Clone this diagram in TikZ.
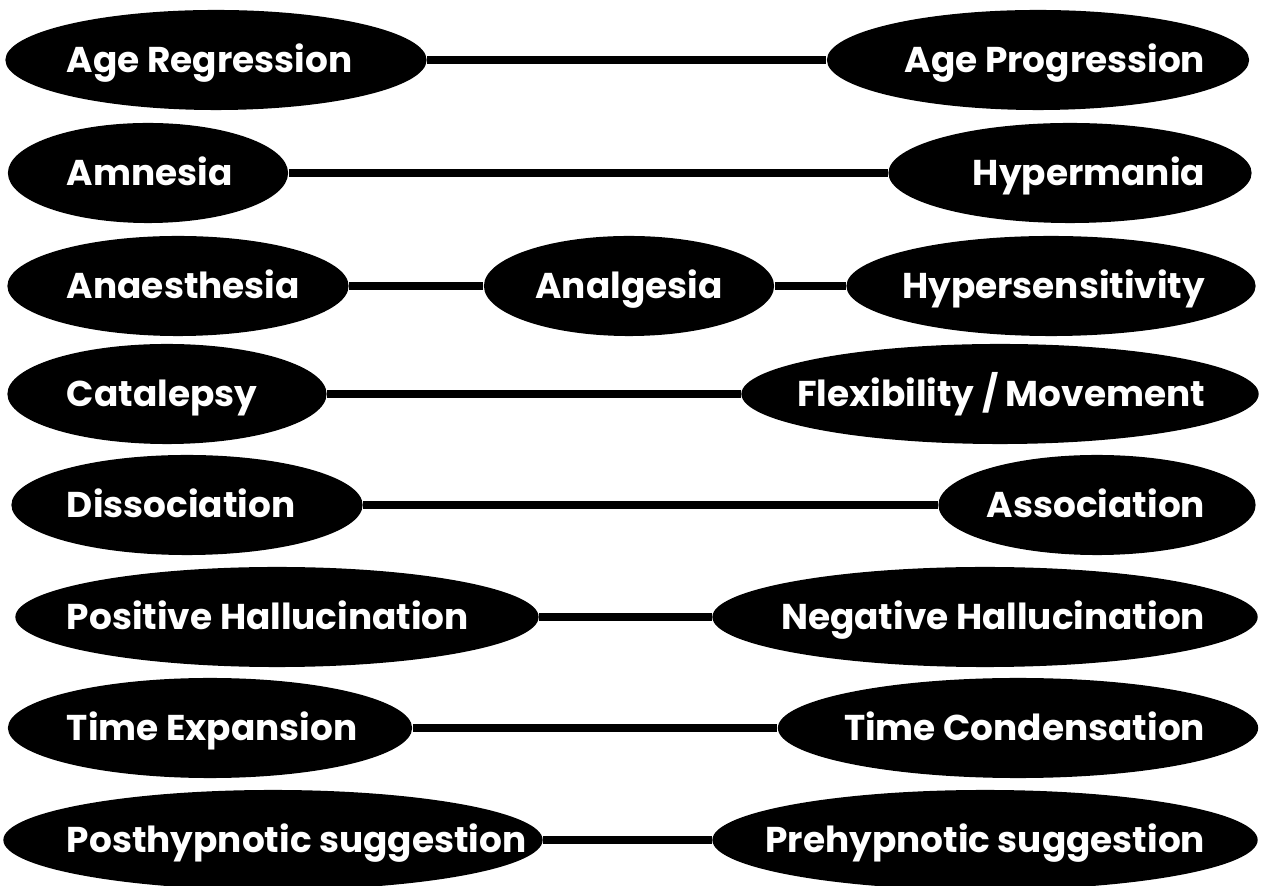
\documentclass[tikz,border=0pt]{standalone}
\usepackage{fontspec}
\setmainfont{Poppins}
\usetikzlibrary{shapes.geometric}

\tikzset{
    pole/.style={ellipse, fill=black, text=white, inner sep=0pt, minimum height=1cm,
        text height=7.1pt, text depth=0pt,
        font=\bfseries\fontsize{10.2}{12}\selectfont},
    link/.style={line width=2pt}
}

\begin{document}
\begin{tikzpicture}[x=0.01cm, y=-0.01cm]
        \useasboundingbox (0,0) rectangle (1267,886);

        \node[pole, minimum width=4.21cm] (ageReg) at (216,60) {\makebox[0pt][l]{\hspace*{-1.49cm}Age Regression}};
        \node[pole, minimum width=4.22cm] (agePro) at (1038,60) {\makebox[0pt][r]{Age Progression\hspace*{-1.67cm}}};
        \node[pole, minimum width=2.80cm] (amnes) at (148,173) {\makebox[0pt][l]{\hspace*{-0.81cm}Amnesia}};
        \node[pole, minimum width=3.63cm] (hyperm) at (1070,173) {\makebox[0pt][r]{Hypermania\hspace*{-1.35cm}}};
        \node[pole, minimum width=3.41cm] (anaes) at (178,286) {\makebox[0pt][l]{\hspace*{-1.11cm}Anaesthesia}};
        \node[pole, minimum width=2.90cm] (analg) at (629,286) {\makebox[0pt]{Analgesia}};
        \node[pole, minimum width=4.09cm] (hypers) at (1051,286) {\makebox[0pt][r]{Hypersensitivity\hspace*{-1.54cm}}};
        \node[pole, minimum width=3.19cm] (catal) at (167,394) {\makebox[0pt][l]{\hspace*{-1.00cm}Catalepsy}};
        \node[pole, minimum width=5.17cm] (flex) at (1000,394) {\makebox[0pt][r]{Flexibility / Movement\hspace*{-2.05cm}}};
        \node[pole, minimum width=3.51cm] (dissoc) at (187,505) {\makebox[0pt][l]{\hspace*{-1.20cm}Dissociation}};
        \node[pole, minimum width=3.17cm] (assoc) at (1097,505) {\makebox[0pt][r]{Association\hspace*{-1.08cm}}};
        \node[pole, minimum width=5.23cm] (posHal) at (277,617) {\makebox[0pt][l]{\hspace*{-2.10cm}Positive Hallucination}};
        \node[pole, minimum width=5.45cm] (negHal) at (985,617) {\makebox[0pt][r]{Negative Hallucination\hspace*{-2.20cm}}};
        \node[pole, minimum width=4.04cm] (timeExp) at (210,728) {\makebox[0pt][l]{\hspace*{-1.43cm}Time Expansion}};
        \node[pole, minimum width=4.80cm] (timeCon) at (1018,728) {\makebox[0pt][r]{Time Condensation\hspace*{-1.87cm}}};
        \node[pole, minimum width=5.39cm] (postSug) at (273,840) {\makebox[0pt][l]{\hspace*{-2.06cm}Posthypnotic suggestion}};
        \node[pole, minimum width=5.45cm] (preSug) at (985,840) {\makebox[0pt][r]{Prehypnotic suggestion\hspace*{-2.20cm}}};

        \draw[link] (ageReg) -- (agePro);
        \draw[link] (amnes) -- (hyperm);
        \draw[link] (anaes) -- (analg);
        \draw[link] (analg) -- (hypers);
        \draw[link] (catal) -- (flex);
        \draw[link] (dissoc) -- (assoc);
        \draw[link] (posHal) -- (negHal);
        \draw[link] (timeExp) -- (timeCon);
        \draw[link] (postSug) -- (preSug);
\end{tikzpicture}
\end{document}
